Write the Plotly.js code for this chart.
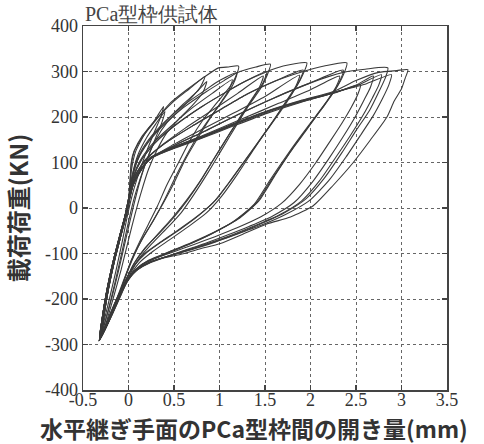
<!DOCTYPE html>
<html><head><meta charset="utf-8">
<script src="https://cdn.plot.ly/plotly-3.0.1.min.js"></script>
<style>html,body{margin:0;padding:0;background:#fff}#chart{width:484px;height:444px}</style>
</head><body><div id="chart"></div>
<script>
const chartTitle = 'PCa型枠供試体';
const xTitle = '水平継ぎ手面のPCa型枠間の開き量(mm)';
const yTitle = '載荷荷重(KN)';
const xTickVals = [-0.5,0,0.5,1,1.5,2,2.5,3,3.5];
const xTickText = ['-0.5','0','0.5','1','1.5','2','2.5','3','3.5'];
const yTickVals = [-400,-300,-200,-100,0,100,200,300,400];
const yTickText = ['-400','-300','-200','-100','0','100','200','300','400'];

// hysteresis cycles: opening (mm) / load (kN)
const c1x=[0,0.01,0.03,0.07,0.15,0.27,0.385,0.35,0.28,0.2,0.12,0.05,-0.01,-0.07,-0.14,-0.21,-0.27,-0.30,-0.27,-0.22,-0.15,-0.08,-0.03,0.0];
const c1y=[0,45,95,128,158,187,223,198,165,125,80,35,-15,-75,-140,-200,-250,-280,-235,-175,-110,-55,-15,10];
const c2x=[-0.31,-0.28,-0.23,-0.16,-0.09,-0.03,0.01,0.04,0.1,0.2,0.3,0.40,0.37,0.3,0.22,0.13,0.06,0.0,-0.07,-0.15,-0.23,-0.31];
const c2y=[-285,-240,-180,-115,-60,-15,25,70,115,155,185,212,190,155,115,65,20,-30,-95,-165,-230,-285];
const c3x=[-0.32,-0.29,-0.24,-0.17,-0.1,-0.04,0.0,0.02,0.03,0.08,0.2,0.35,0.5,0.67,0.84,0.79,0.64,0.42,0.3,0.2,0.12,0.05,-0.02,-0.1,-0.18,-0.26,-0.32];
const c3y=[-290,-245,-185,-120,-65,-20,15,50,80,125,170,205,235,262,289,266,231,187,150,105,55,0,-60,-130,-195,-252,-290];
const c4x=[-0.31,-0.28,-0.22,-0.15,-0.08,-0.02,0.02,0.05,0.12,0.25,0.42,0.6,0.75,0.86,0.82,0.7,0.55,0.42,0.32,0.22,0.14,0.07,0.0,-0.08,-0.17,-0.25,-0.31];
const c4y=[-287,-240,-175,-110,-55,-10,35,75,115,155,192,228,255,278,255,225,195,165,130,85,35,-15,-70,-135,-200,-255,-287];
const c5x=[-0.32,-0.29,-0.24,-0.17,-0.1,-0.04,0.0,0.02,0.03,0.06,0.17,0.28,0.46,0.64,0.82,0.99,1.1,1.21,1.17,1.12,0.97,0.82,0.68,0.55,0.42,0.32,0.22,0.12,0.03,-0.05,-0.14,-0.23,-0.32];
const c5y=[-291,-243,-183,-118,-63,-18,20,55,100,125,160,188,231,260,286,308,310,312,285,268,231,194,150,100,50,5,-35,-75,-115,-160,-210,-255,-291];
const c6x=[-0.31,-0.28,-0.23,-0.16,-0.09,-0.03,0.01,0.04,0.1,0.22,0.4,0.6,0.85,1.0,1.19,1.15,1.05,0.92,0.78,0.65,0.52,0.4,0.28,0.16,0.06,-0.03,-0.12,-0.22,-0.31];
const c6y=[-286,-240,-180,-115,-60,-15,30,70,110,150,190,225,260,280,297,272,240,205,165,120,70,20,-25,-65,-105,-150,-200,-250,-286];
const c7x=[-0.3,-0.27,-0.22,-0.15,-0.08,-0.02,0.02,0.05,0.13,0.28,0.48,0.7,0.92,1.14,1.1,1.0,0.88,0.75,0.62,0.5,0.38,0.26,0.14,0.04,-0.05,-0.14,-0.23,-0.3];
const c7y=[-282,-236,-177,-112,-58,-12,32,68,105,145,182,220,252,282,258,228,192,150,105,55,10,-32,-72,-112,-157,-205,-252,-282];
const c8x=[-0.32,-0.29,-0.24,-0.17,-0.1,-0.04,0.0,0.04,0.1,0.22,0.4,0.6,0.85,1.05,1.2,1.4,1.56,1.52,1.45,1.32,1.18,1.03,0.88,0.72,0.58,0.42,0.26,0.12,0.02,-0.07,-0.17,-0.26,-0.32];
const c8y=[-290,-244,-184,-119,-64,-19,20,65,105,145,185,220,255,280,298,310,316,290,262,225,180,130,80,30,-10,-45,-78,-110,-145,-185,-230,-268,-290];
const c9x=[-0.31,-0.28,-0.23,-0.16,-0.09,-0.03,0.01,0.05,0.14,0.3,0.52,0.8,1.1,1.3,1.52,1.48,1.38,1.25,1.1,0.95,0.8,0.65,0.5,0.34,0.18,0.06,-0.03,-0.12,-0.22,-0.31];
const c9y=[-286,-240,-180,-115,-60,-15,28,65,105,145,183,222,258,280,300,276,245,205,160,112,62,18,-20,-55,-88,-122,-160,-205,-250,-286];
const c10x=[-0.3,-0.27,-0.22,-0.15,-0.08,-0.02,0.02,0.07,0.18,0.38,0.62,0.9,1.2,1.48,1.44,1.35,1.22,1.08,0.93,0.78,0.63,0.48,0.32,0.17,0.05,-0.04,-0.13,-0.23,-0.3];
const c10y=[-283,-237,-178,-113,-58,-12,32,70,105,140,175,212,252,290,266,238,198,153,105,57,15,-22,-58,-92,-126,-165,-210,-255,-283];
const c11x=[-0.32,-0.29,-0.24,-0.17,-0.1,-0.04,0.01,0.05,0.14,0.3,0.52,0.8,1.1,1.3,1.5,1.7,1.96,1.92,1.85,1.72,1.55,1.38,1.2,1.02,0.85,0.65,0.45,0.27,0.12,0.02,-0.07,-0.17,-0.26,-0.32];
const c11y=[-290,-244,-184,-119,-64,-19,28,65,105,145,183,222,258,280,298,312,319,295,268,230,180,130,75,25,-12,-42,-70,-95,-120,-148,-185,-230,-268,-290];
const c12x=[-0.31,-0.28,-0.23,-0.16,-0.09,-0.03,0.02,0.07,0.2,0.4,0.7,1.0,1.3,1.6,1.92,1.88,1.8,1.67,1.5,1.32,1.14,0.97,0.78,0.58,0.38,0.2,0.07,-0.02,-0.1,-0.2,-0.31];
const c12y=[-286,-240,-180,-115,-60,-15,32,70,108,142,180,215,250,278,303,280,252,212,165,115,65,20,-15,-45,-72,-98,-125,-155,-192,-238,-286];
const c13x=[-0.3,-0.27,-0.22,-0.15,-0.08,-0.02,0.03,0.08,0.25,0.5,0.8,1.15,1.5,1.88,1.84,1.75,1.62,1.45,1.27,1.1,0.93,0.73,0.52,0.33,0.16,0.05,-0.04,-0.13,-0.23,-0.3];
const c13y=[-283,-237,-178,-113,-58,-12,35,70,110,140,172,208,245,292,268,240,200,152,102,55,12,-22,-52,-78,-103,-130,-162,-205,-250,-283];
const c14x=[-0.32,-0.29,-0.24,-0.17,-0.1,-0.04,0.02,0.07,0.2,0.4,0.7,1.0,1.3,1.6,1.92,2.15,2.4,2.36,2.28,2.15,2.0,1.8,1.62,1.43,1.2,0.95,0.7,0.45,0.22,0.08,-0.02,-0.11,-0.2,-0.28,-0.32];
const c14y=[-290,-244,-184,-119,-64,-19,32,70,108,142,180,215,250,278,300,312,319,292,262,225,185,130,75,15,-25,-52,-75,-96,-115,-135,-160,-195,-238,-275,-290];
const c15x=[-0.31,-0.28,-0.23,-0.16,-0.09,-0.03,0.02,0.05,0.13,0.25,0.5,0.85,1.2,1.6,2.0,2.36,2.32,2.23,2.1,1.95,1.76,1.58,1.4,1.17,0.92,0.67,0.42,0.2,0.07,-0.03,-0.12,-0.21,-0.31];
const c15y=[-286,-240,-180,-115,-60,-15,28,50,84,110,137,170,205,242,275,303,278,248,212,170,118,65,10,-28,-56,-79,-99,-118,-138,-163,-198,-240,-286];
const c16x=[-0.3,-0.27,-0.22,-0.15,-0.08,-0.02,0.02,0.05,0.13,0.24,0.5,0.85,1.25,1.65,2.0,2.32,2.28,2.19,2.05,1.9,1.72,1.55,1.38,1.15,0.9,0.64,0.4,0.18,0.06,-0.04,-0.13,-0.22,-0.3];
const c16y=[-283,-237,-178,-113,-58,-12,28,50,82,110,134,162,196,230,260,290,266,238,200,160,110,60,8,-30,-58,-82,-102,-121,-140,-166,-202,-245,-283];
const c17x=[-0.32,-0.29,-0.24,-0.17,-0.1,-0.04,0.02,0.05,0.13,0.25,0.5,0.85,1.2,1.6,2.0,2.36,2.6,2.85,2.82,2.75,2.65,2.5,2.34,2.15,1.95,1.7,1.45,1.2,0.95,0.7,0.47,0.25,0.1,0.0,-0.09,-0.19,-0.27,-0.32];
const c17y=[-291,-244,-184,-119,-64,-19,28,50,84,110,137,170,205,242,275,298,305,308,285,255,215,170,120,65,20,-12,-35,-56,-74,-90,-104,-118,-135,-158,-190,-233,-270,-291];
const c18x=[-0.31,-0.28,-0.23,-0.16,-0.09,-0.03,0.02,0.05,0.13,0.24,0.49,0.79,1.15,1.52,1.89,2.25,2.5,2.78,2.75,2.68,2.58,2.44,2.28,2.1,1.9,1.65,1.4,1.15,0.9,0.65,0.43,0.22,0.08,-0.02,-0.11,-0.2,-0.31];
const c18y=[-287,-240,-180,-115,-60,-15,30,51,81,110,132,154,183,212,234,253,268,293,270,242,205,160,112,60,15,-16,-38,-58,-76,-92,-106,-120,-138,-162,-196,-238,-287];
const c19x=[-0.3,-0.27,-0.22,-0.15,-0.08,-0.02,0.02,0.05,0.13,0.24,0.49,0.79,1.15,1.52,1.89,2.25,2.5,2.69,2.66,2.59,2.49,2.36,2.2,2.02,1.82,1.58,1.33,1.08,0.84,0.6,0.4,0.2,0.06,-0.03,-0.12,-0.22,-0.3];
const c19y=[-282,-236,-177,-112,-58,-12,30,51,80,108,130,152,180,208,232,253,270,290,266,238,200,157,108,57,12,-18,-40,-60,-78,-94,-108,-122,-140,-164,-198,-242,-282];
const c20x=[-0.32,-0.29,-0.24,-0.17,-0.1,-0.04,0.01,0.05,0.13,0.24,0.49,0.79,1.15,1.52,1.89,2.25,2.6,2.89,2.86,2.79,2.69,2.55,2.39,2.2,1.98,1.72,1.47,1.2,0.95,0.7,0.46,0.24,0.09,-0.01,-0.1,-0.2,-0.28,-0.32];
const c20y=[-290,-244,-184,-119,-64,-19,28,52,82,110,133,155,184,212,235,254,272,293,270,240,203,160,112,60,15,-15,-37,-57,-75,-91,-105,-119,-137,-160,-193,-236,-272,-290];
const c21x=[-0.31,-0.28,-0.23,-0.16,-0.09,-0.03,0.02,0.05,0.13,0.24,0.49,0.79,1.15,1.52,1.89,2.25,2.55,2.52,2.45,2.35,2.22,2.06,1.88,1.68,1.45,1.2,0.95,0.72,0.5,0.3,0.13,0.03,-0.05,-0.14,-0.23,-0.31];
const c21y=[-286,-240,-180,-115,-60,-15,30,50,81,109,131,153,182,210,233,252,271,250,222,188,148,100,52,10,-20,-43,-63,-80,-96,-110,-126,-146,-168,-205,-248,-286];
const c22x=[-0.32,-0.29,-0.24,-0.17,-0.1,-0.04,0.01,0.05,0.13,0.24,0.49,0.79,1.15,1.52,1.89,2.25,2.5,2.75,2.95,3.07,3.04,3.0,2.92,2.84,2.66,2.47,2.25,2.03,1.78,1.52,1.25,1.01,0.78,0.57,0.35,0.16,0.04,-0.04,-0.12,-0.2,-0.27,-0.33];
const c22y=[-291,-244,-184,-119,-64,-19,28,52,82,111,134,156,185,213,236,256,280,298,302,304,285,262,235,200,150,100,50,5,-20,-35,-58,-78,-90,-102,-112,-128,-145,-165,-195,-232,-270,-293];

const cycles = [
  [c1x,c1y],[c2x,c2y],[c3x,c3y],[c4x,c4y],[c5x,c5y],[c6x,c6y],[c7x,c7y],[c8x,c8y],
  [c9x,c9y],[c10x,c10y],[c11x,c11y],[c12x,c12y],[c13x,c13y],[c14x,c14y],[c15x,c15y],
  [c16x,c16y],[c17x,c17y],[c18x,c18y],[c19x,c19y],[c20x,c20y],[c21x,c21y],[c22x,c22y]
];

const traces = cycles.map(c => ({
  x: c[0], y: c[1], type: 'scatter', mode: 'lines',
  line: {color: '#3a3a3a', width: 1.1, shape: 'spline', smoothing: 0.6},
  hoverinfo: 'skip', showlegend: false
}));

const serif = 'Liberation Serif, Times New Roman, serif';
const sansB = 'Noto Sans CJK JP';

const axisCommon = {
  showline: true, linecolor: '#444', linewidth: 1.5, mirror: 'ticks',
  ticks: 'inside', ticklen: 5, tickwidth: 1.2, tickcolor: '#444',
  showgrid: true, gridcolor: '#666', griddash: 'dot', gridwidth: 1,
  zeroline: false, tickfont: {family: serif, size: 18, color: '#333'}
};

const layout = {
  width: 484, height: 444,
  margin: {l: 83, r: 37, t: 26, b: 54, pad: 0},
  paper_bgcolor: '#fff', plot_bgcolor: '#fff',
  title: {text: chartTitle, font: {family: serif, size: 20, color: '#444'},
          x: 85/484, xanchor: 'left', xref: 'container', y: 1 - 14/444, yanchor: 'middle', yref: 'container'},
  xaxis: Object.assign({}, axisCommon, {
    range: [-0.5, 3.5], tickvals: xTickVals, ticktext: xTickText, ticklabelstandoff: -7
  }),
  yaxis: Object.assign({}, axisCommon, {
    range: [-400, 400], tickvals: yTickVals, ticktext: yTickText,
    title: {text: '<b>' + yTitle + '</b>', font: {family: sansB, size: 24, color: '#333'}, standoff: 10}
  }),
  annotations: [{
    text: '<b>' + xTitle + '</b>', xref: 'paper', yref: 'paper',
    x: (254 - 83) / 364, y: (390 - 427.5) / 364, xanchor: 'center', yanchor: 'middle',
    showarrow: false, font: {family: sansB, size: 23, color: '#333'}
  }]
};

Plotly.newPlot('chart', traces, layout, {displayModeBar: false, staticPlot: true});
</script>
</body></html>
